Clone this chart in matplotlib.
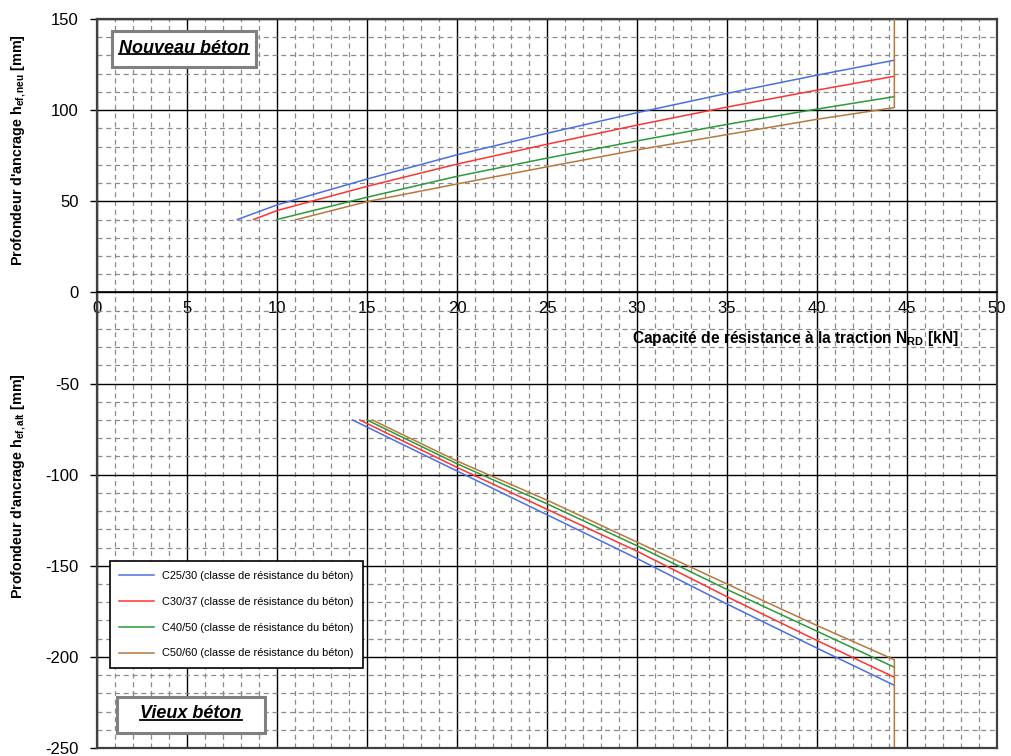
import matplotlib
matplotlib.use('Agg')
import matplotlib.pyplot as plt
from matplotlib.ticker import MultipleLocator
from matplotlib.patches import Rectangle
from matplotlib.lines import Line2D

plt.rcParams['font.family'] = ['Liberation Sans', 'DejaVu Sans']
plt.rcParams['mathtext.fontset'] = 'custom'
plt.rcParams['mathtext.rm'] = 'Liberation Sans'
plt.rcParams['mathtext.bf'] = 'Liberation Sans:bold'
plt.rcParams['mathtext.it'] = 'Liberation Sans:italic'
plt.rcParams['axes.unicode_minus'] = False

# ---------------- data ----------------
series_labels = [
    "C25/30 (classe de résistance du béton)",
    "C30/37 (classe de résistance du béton)",
    "C40/50 (classe de résistance du béton)",
    "C50/60 (classe de résistance du béton)",
]
series_colors = ["#4a6fe3", "#ff3333", "#2a9a3a", "#b8783c"]

# New concrete (positive axis): N_RD [kN] -> h_ef,neu [mm]
x_neu_c25 = [7.8, 10, 15, 20, 25, 30, 35, 40, 44.3]
h_neu_c25 = [40, 48.0, 62.2, 75.5, 87.3, 98.6, 109.2, 119.2, 127.4]
x_neu_c30 = [8.7, 10, 15, 20, 25, 30, 35, 40, 44.3]
h_neu_c30 = [40, 44.9, 58.2, 70.4, 81.3, 91.8, 101.7, 111.0, 118.6]
x_neu_c40 = [10.0, 15, 20, 25, 30, 35, 40, 44.3]
h_neu_c40 = [40, 52.2, 63.7, 73.7, 83.1, 92.2, 100.6, 107.4]
x_neu_c50 = [11.1, 15, 20, 25, 30, 35, 40, 44.3, 44.3]
h_neu_c50 = [40, 49.8, 59.5, 68.9, 78.2, 86.6, 95.0, 101.4, 150]

# Old concrete (negative axis): N_RD [kN] -> h_ef,alt [mm]
x_alt_c25 = [14.2, 20, 25, 30, 35, 40, 44.3]
h_alt_c25 = [-70, -98, -122, -146, -171, -195.2, -215.6]
x_alt_c30 = [14.6, 20, 25, 30, 35, 40, 44.3]
h_alt_c30 = [-70, -96, -119, -142, -167, -191, -211.2]
x_alt_c40 = [15.0, 20, 25, 30, 35, 40, 44.3]
h_alt_c40 = [-70, -94, -116, -139, -163, -185.9, -205.7]
x_alt_c50 = [15.3, 20, 25, 30, 35, 40, 44.3, 44.3]
h_alt_c50 = [-70, -92.5, -114, -137, -160, -182.8, -201.6, -250]

x_ticks = [0, 5, 10, 15, 20, 25, 30, 35, 40, 45, 50]
y_ticks = [150, 100, 50, 0, -50, -100, -150, -200, -250]

# ---------------- figure ----------------
fig = plt.figure(figsize=(10.11, 7.56), dpi=100)
ax = fig.add_axes([0.0959, 0.0106, 0.8902, 0.9642])

neu = [(x_neu_c25, h_neu_c25), (x_neu_c30, h_neu_c30),
       (x_neu_c40, h_neu_c40), (x_neu_c50, h_neu_c50)]
alt = [(x_alt_c25, h_alt_c25), (x_alt_c30, h_alt_c30),
       (x_alt_c40, h_alt_c40), (x_alt_c50, h_alt_c50)]

for (xs, ys), c, lab in zip(neu, series_colors, series_labels):
    ax.plot(xs, ys, color=c, lw=1.1, label=lab, zorder=3)
for (xs, ys), c in zip(alt, series_colors):
    ax.plot(xs, ys, color=c, lw=1.1, zorder=3)

ax.set_xlim(0, 50)
ax.set_ylim(-250, 150)
ax.set_xticks(x_ticks)
ax.set_yticks(y_ticks)
ax.xaxis.set_minor_locator(MultipleLocator(1))
ax.yaxis.set_minor_locator(MultipleLocator(10))

ax.grid(which='major', color='black', lw=1.0, ls='-', zorder=1)
ax.grid(which='minor', color='#8c8c8c', lw=0.9, ls=(0, (4, 3)), zorder=0)
ax.set_axisbelow(True)

# x axis along the zero line
ax.spines['bottom'].set_position(('data', 0))
ax.spines['bottom'].set_color('black')
ax.spines['bottom'].set_linewidth(1.2)
for s in ['left', 'right', 'top']:
    ax.spines[s].set_color('#404040')
    ax.spines[s].set_linewidth(1.6)
# bottom frame line
ax.plot([0, 1], [0, 0], transform=ax.transAxes, color='#404040', lw=1.6,
        clip_on=False, zorder=4)

ax.tick_params(axis='x', which='major', length=0, pad=6, labelsize=12)
ax.tick_params(axis='x', which='minor', length=0)
ax.tick_params(axis='y', which='major', direction='out', length=5, width=1,
               pad=8, labelsize=12)
ax.tick_params(axis='y', which='minor', length=0)

# axis labels
ax.text(0.776, 0.562, r"Capacité de résistance à la traction N$_{\mathbf{RD}}$ [kN]",
        transform=ax.transAxes, ha='center', va='center', fontsize=11.2,
        fontweight='bold', zorder=6)
fig.text(0.019, 0.802, r"Profondeur d'ancrage h$_{\mathbf{ef,neu}}$ [mm]",
         rotation=90, ha='center', va='center', fontsize=10.3, fontweight='bold')
fig.text(0.019, 0.357, r"Profondeur d'ancrage h$_{\mathbf{ef,alt}}$ [mm]",
         rotation=90, ha='center', va='center', fontsize=10.3, fontweight='bold')

# legend
leg = ax.legend(loc='upper left', bbox_to_anchor=(0.0144, 0.256),
                borderaxespad=0, fontsize=7.9, labelspacing=1.45,
                handlelength=3.2, handletextpad=0.7, borderpad=0.85,
                fancybox=False, framealpha=1, edgecolor='black')
leg.get_frame().set_linewidth(1.2)
leg.set_zorder(10)

# labelled boxes
def boxed_label(text, box, center):
    x0, y0, x1, y1 = box
    ax.add_patch(Rectangle((x0, y0), x1 - x0, y1 - y0, transform=ax.transAxes,
                           facecolor='white', edgecolor='#808080', lw=2.2,
                           zorder=7, clip_on=False))
    t = ax.text(center[0], center[1], text, transform=ax.transAxes,
                ha='center', va='center', fontsize=13, fontweight='bold',
                fontstyle='italic', zorder=8)
    return t

t1 = boxed_label("Nouveau béton", (0.0167, 0.934, 0.1767, 0.9836), (0.0967, 0.960))
t2 = boxed_label("Vieux béton", (0.0222, 0.0205, 0.1867, 0.0699), (0.1044, 0.047))

fig.canvas.draw()
r = fig.canvas.get_renderer()
inv = ax.transAxes.inverted()
for t in (t1, t2):
    bb = t.get_window_extent(renderer=r)
    (ux0, uy0) = inv.transform((bb.x0, bb.y0 + 2.5))
    (ux1, _) = inv.transform((bb.x1, bb.y0 + 2.5))
    ax.add_line(Line2D([ux0, ux1], [uy0, uy0], transform=ax.transAxes,
                       color='black', lw=1.3, zorder=9, clip_on=False))

fig.savefig('out.png', dpi=100)
